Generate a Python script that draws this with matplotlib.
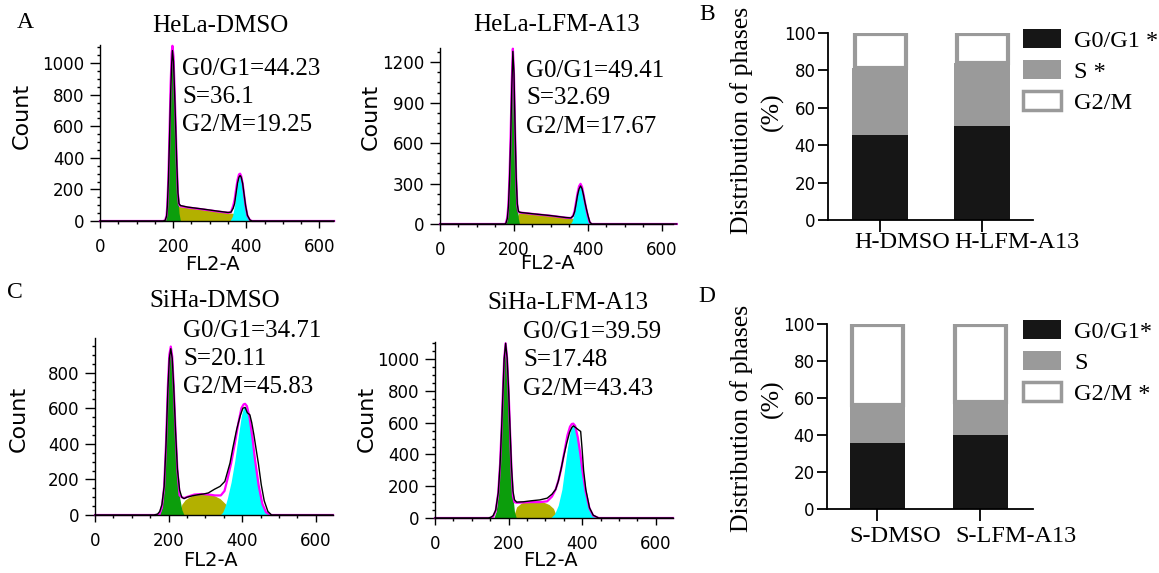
#!/usr/bin/env python3

import numpy as np
import matplotlib
matplotlib.use('Agg')
import matplotlib.pyplot as plt
from matplotlib.ticker import MultipleLocator
from matplotlib.patches import Patch
from matplotlib.transforms import ScaledTranslation

# ---- histogram data (FL2-A channel, counts) ----
# HeLa-DMSO
hd_g1_x = [178, 182, 184, 187, 190, 193, 196, 198, 201, 204, 207, 210, 213, 216, 220]
hd_g1_y = [0, 30, 90, 260, 520, 800, 1000, 1058, 980, 780, 560, 330, 150, 50, 0]
hd_s_x = [200, 214, 250, 300, 340, 365, 385]
hd_s_y = [0, 92, 82, 68, 56, 48, 0]
hd_g2_x = [355, 362, 368, 372, 376, 380, 383, 386, 390, 394, 398, 403, 410]
hd_g2_y = [0, 30, 100, 170, 235, 275, 282, 270, 230, 160, 90, 30, 0]
hd_x = [0, 172, 178, 182, 184, 187, 190, 193, 196, 198, 201, 204, 207, 210, 213, 216, 220, 240,
        280, 320, 350, 358, 364, 368, 372, 376, 380, 383, 386, 390, 394, 398, 403, 410, 416, 640]
hd_data = [0, 0, 3, 30, 90, 260, 520, 800, 1000, 1080, 1010, 810, 590, 360, 180, 110, 98, 88,
           76, 63, 54, 56, 80, 110, 175, 240, 278, 288, 278, 238, 168, 98, 36, 6, 0, 0]
hd_fit = [0, 0, 4, 35, 100, 280, 560, 860, 1060, 1110, 1040, 830, 600, 360, 175, 105, 94, 86,
          74, 61, 52, 56, 95, 135, 200, 260, 295, 300, 285, 238, 165, 95, 34, 5, 0, 0]

# HeLa-LFM-A13
hl_g1_x = [178, 182, 185, 188, 191, 194, 197, 200, 203, 206, 209, 212, 215]
hl_g1_y = [0, 40, 130, 330, 624, 1000, 1290, 1100, 680, 330, 128, 40, 0]
hl_s_x = [198, 214, 250, 300, 340, 360, 378]
hl_s_y = [0, 84, 74, 62, 48, 42, 0]
hl_g2_x = [352, 357, 362, 366, 370, 374, 378, 382, 386, 390, 394, 398, 403, 408]
hl_g2_y = [0, 20, 70, 140, 200, 250, 277, 265, 225, 175, 135, 80, 25, 0]
hl_x = [0, 174, 178, 182, 185, 188, 191, 194, 197, 200, 203, 206, 209, 212, 215, 220, 250,
        300, 340, 354, 360, 364, 368, 372, 376, 380, 384, 388, 392, 396, 400, 405, 410, 640]
hl_data = [0, 0, 3, 40, 130, 330, 620, 1000, 1280, 1120, 700, 350, 150, 95, 88, 85, 76,
           62, 48, 45, 60, 90, 150, 215, 260, 282, 262, 215, 160, 110, 65, 15, 0, 0]
hl_fit = [0, 0, 5, 50, 150, 360, 660, 1050, 1300, 1110, 690, 340, 140, 92, 86, 84, 75,
          61, 47, 44, 62, 100, 165, 230, 280, 298, 275, 220, 160, 105, 55, 10, 0, 0]

# SiHa-DMSO
sd_g1_x = [175, 182, 188, 193, 198, 202, 206, 210, 214, 219, 224, 230, 236, 242]
sd_g1_y = [0, 40, 150, 380, 700, 880, 929, 880, 720, 465, 250, 100, 30, 0]
sd_s_x = [228, 236, 245, 260, 275, 294, 310, 325, 340, 355, 365, 372]
sd_s_y = [0, 60, 85, 105, 116, 120, 117, 108, 92, 62, 30, 0]
sd_g2_x = [340, 347, 353, 360, 370, 380, 390, 398, 404, 408, 413, 420, 428, 435, 445, 455, 465, 478]
sd_g2_y = [0, 15, 45, 95, 185, 305, 450, 560, 605, 610, 600, 540, 430, 305, 160, 60, 15, 0]
sd_data_x = [0, 160, 170, 176, 182, 188, 193, 198, 202, 206, 210, 214, 219, 224, 230, 236, 242,
             250, 265, 280, 295, 308, 325, 340, 353, 367, 375, 385, 395, 402, 408, 414, 421,
             426, 432, 438, 444, 452, 460, 470, 480, 647]
sd_data = [0, 0, 5, 20, 60, 160, 390, 700, 880, 935, 880, 720, 470, 260, 140, 100, 92,
           100, 108, 114, 118, 124, 145, 161, 189, 292, 380, 480, 560, 600, 605, 575, 563,
           520, 450, 370, 292, 170, 80, 20, 0, 0]
sd_fit_x = [0, 165, 175, 182, 188, 193, 198, 202, 206, 210, 214, 219, 224, 230, 236, 242, 255,
            270, 290, 310, 326, 342, 352, 360, 370, 380, 390, 398, 404, 408, 413, 420, 428,
            435, 445, 455, 465, 478, 647]
sd_fit = [0, 0, 3, 45, 160, 400, 720, 900, 947, 890, 725, 470, 255, 110, 100, 95, 105,
          115, 118, 115, 110, 110, 135, 200, 290, 400, 520, 600, 622, 625, 612, 550, 435,
          310, 165, 62, 15, 0, 0]

# SiHa-LFM-A13
sl_g1_x = [160, 166, 172, 177, 181, 185, 188, 192, 196, 200, 204, 208, 212, 216, 221]
sl_g1_y = [0, 40, 150, 330, 547, 800, 990, 1094, 1000, 800, 547, 300, 130, 40, 0]
sl_s_x = [212, 222, 235, 250, 267, 280, 295, 310, 322, 332]
sl_s_y = [0, 70, 95, 106, 110, 108, 100, 85, 60, 0]
sl_g2_x = [314, 325, 335, 345, 352, 360, 367, 372, 376, 381, 388, 395, 401, 410, 420, 430, 445]
sl_g2_y = [0, 25, 80, 180, 300, 440, 540, 575, 583, 570, 500, 400, 292, 160, 60, 15, 0]
sl_data_x = [0, 145, 152, 158, 165, 172, 177, 181, 185, 188, 192, 196, 200, 204, 208, 212, 216,
             222, 240, 260, 285, 305, 318, 328, 335, 342, 350, 358, 366, 372, 376, 382, 390,
             396, 400, 404, 410, 420, 430, 445, 647]
sl_data = [0, 0, 5, 15, 50, 160, 340, 560, 810, 1000, 1100, 1010, 810, 560, 320, 170, 115,
           100, 102, 108, 114, 125, 150, 180, 230, 300, 390, 470, 540, 570, 580, 570, 555,
           545, 430, 300, 180, 65, 18, 0, 0]
sl_fit_x = [0, 150, 158, 165, 172, 177, 181, 185, 188, 192, 196, 200, 204, 208, 212, 216, 222,
            240, 260, 285, 305, 318, 328, 336, 344, 352, 360, 367, 372, 376, 381, 388, 395,
            401, 410, 420, 430, 445, 647]
sl_fit = [0, 0, 8, 45, 160, 345, 565, 820, 1000, 1100, 1005, 805, 552, 305, 140, 100, 96,
          98, 100, 100, 105, 135, 180, 240, 320, 420, 520, 575, 592, 594, 580, 510, 405,
          295, 160, 60, 15, 0, 0]

# ---- stacked bar data (% of cells) ----
hela_cats = ['H-DMSO', 'H-LFM-A13']
hela_g1 = [45.3, 50.3]
hela_s = [36.0, 33.6]
hela_g2m = [18.2, 15.6]
hela_legend = ['G0/G1 *', 'S *', 'G2/M']

siha_cats = ['S-DMSO', 'S-LFM-A13']
siha_g1 = [35.7, 40.2]
siha_s = [20.3, 17.6]
siha_g2m = [43.5, 41.7]
siha_legend = ['G0/G1*', 'S', 'G2/M *']

GREEN = '#0c9e0c'
OLIVE = '#b3b000'
CYAN = '#00ffff'
PINK = '#ff00ff'
BLACK = '#161616'
GRAY = '#9a9a9a'
SERIF = 'Liberation Serif'
SANS = 'DejaVu Sans'

W, H = 1159, 573
fig = plt.figure(figsize=(W / 100, H / 100), dpi=100)


def rect(l, t, r, b):
    return [l / W, 1 - b / H, (r - l) / W, (b - t) / H]


def ftext(x, y, s, **kw):
    fig.text(x / W, 1 - y / H, s, **kw)


def draw_hist(r, xmax, ymax, ystep, yminor, g1x, g1y, sx, sy, g2x, g2y, dx, dy, fx, fy):
    ax = fig.add_axes(r)
    ax.fill_between(sx, sy, color=OLIVE, lw=0)
    ax.fill_between(g1x, g1y, color=GREEN, lw=0)
    ax.fill_between(g2x, g2y, color=CYAN, lw=0)
    ax.plot(fx, fy, color=PINK, lw=1.6, clip_on=False)
    ax.plot(dx, dy, color='black', lw=1.0, clip_on=False)
    ax.set_xlim(0, xmax)
    ax.set_ylim(0, ymax)
    ax.xaxis.set_major_locator(MultipleLocator(200))
    ax.xaxis.set_minor_locator(MultipleLocator(50))
    ax.yaxis.set_major_locator(MultipleLocator(ystep))
    ax.yaxis.set_minor_locator(MultipleLocator(yminor))
    for s in ['top', 'right']:
        ax.spines[s].set_visible(False)
    for s in ['left', 'bottom']:
        ax.spines[s].set_linewidth(1.0)
    ax.tick_params(axis='y', which='major', length=7, width=1, pad=4, labelsize=12)
    ax.tick_params(axis='x', which='major', length=5, width=1, pad=7, labelsize=12)
    ax.tick_params(which='minor', length=2, width=1)
    for lab in ax.get_xticklabels() + ax.get_yticklabels():
        lab.set_family(SANS)
    return ax


draw_hist(rect(100, 45, 333, 221), 637, 1115, 200, 50,
          hd_g1_x, hd_g1_y, hd_s_x, hd_s_y, hd_g2_x, hd_g2_y, hd_x, hd_data, hd_x, hd_fit)
draw_hist(rect(440, 48, 673, 224), 630, 1305, 300, 75,
          hl_g1_x, hl_g1_y, hl_s_x, hl_s_y, hl_g2_x, hl_g2_y, hl_x, hl_data, hl_x, hl_fit)
draw_hist(rect(95, 338, 333, 515), 647, 995, 200, 50,
          sd_g1_x, sd_g1_y, sd_s_x, sd_s_y, sd_g2_x, sd_g2_y, sd_data_x, sd_data, sd_fit_x, sd_fit)
draw_hist(rect(435, 342, 673, 518), 647, 1108, 200, 50,
          sl_g1_x, sl_g1_y, sl_s_x, sl_s_y, sl_g2_x, sl_g2_y, sl_data_x, sl_data, sl_fit_x, sl_fit)

# titles, annotations and axis labels of the histograms
hist_text = [
    ('HeLa-DMSO', 220, 26, 182, [69, 97, 125], ['G0/G1=44.23', 'S=36.1', 'G2/M=19.25'], 22, 116, 212, 265),
    ('HeLa-LFM-A13', 557, 25, 526, [71, 98, 127], ['G0/G1=49.41', 'S=32.69', 'G2/M=17.67'], 371, 117, 547, 263),
    ('SiHa-DMSO', 215, 301, 183, [331, 359, 387], ['G0/G1=34.71', 'S=20.11', 'G2/M=45.83'], 19, 419, 210, 561),
    ('SiHa-LFM-A13', 568, 303, 523, [332, 360, 389], ['G0/G1=39.59', 'S=17.48', 'G2/M=43.43'], 367, 419, 550, 561),
]
for title, tx, ty, ax_, ays, lines, cx, cy, fx_, fy_ in hist_text:
    ftext(tx, ty, title, family=SERIF, fontsize=18, ha='center', va='center')
    for yy, s in zip(ays, lines):
        ftext(ax_, yy, s, family=SERIF, fontsize=18, ha='left', va='center')
    ftext(cx, cy, 'Count', family=SANS, fontsize=16, rotation=90, ha='center', va='center')
    ftext(fx_, fy_, 'FL2-A', family=SANS, fontsize=14, ha='center', va='center')


def draw_bars(r, xlim, cats, g1, s, g2m, legend_labels, label_dx, label_dy, leg_xy):
    ax = fig.add_axes(r)
    x = np.arange(len(cats))
    g1 = np.array(g1)
    s = np.array(s)
    g2m = np.array(g2m)
    ax.bar(x, g1, width=0.54, color=BLACK, lw=0)
    ax.bar(x, s, bottom=g1, width=0.54, color=GRAY, lw=0)
    ax.bar(x, g2m, bottom=g1 + s, width=0.5, color='white', edgecolor=GRAY, lw=3)
    ax.set_xlim(*xlim)
    ax.set_ylim(0, 100)
    ax.set_xticks(x)
    ax.set_xticklabels([])
    ax.set_yticks(range(0, 101, 20))
    for sp in ['top', 'right']:
        ax.spines[sp].set_visible(False)
    for sp in ['left', 'bottom']:
        ax.spines[sp].set_linewidth(1.3)
    ax.tick_params(axis='y', length=7, width=1.3, pad=2, labelsize=12)
    ax.tick_params(axis='x', length=8.5, width=1.3)
    for lab in ax.get_yticklabels():
        lab.set_family(SANS)
    for i, c in enumerate(cats):
        off = ScaledTranslation(label_dx[i] / 100, -label_dy / 100, fig.dpi_scale_trans)
        ax.text(i, 0, c, transform=ax.get_xaxis_transform() + off, family=SERIF,
                fontsize=17.5, ha='center', va='center')
    handles = [Patch(facecolor=BLACK, edgecolor=BLACK, lw=0),
               Patch(facecolor=GRAY, edgecolor=GRAY, lw=0),
               Patch(facecolor='white', edgecolor=GRAY, lw=2.5)]
    fig.legend(handles, legend_labels, loc='upper left',
               bbox_to_anchor=(leg_xy[0] / W, 1 - leg_xy[1] / H),
               frameon=False, borderpad=0, borderaxespad=0,
               handlelength=1.55, handleheight=0.85, handletextpad=0.55,
               labelspacing=0.32, prop={'family': SERIF, 'size': 17.5})
    return ax


draw_bars(rect(828, 33, 1033, 220), (-0.51, 1.5), hela_cats, hela_g1, hela_s, hela_g2m,
          hela_legend, [22, 35], 23, (1023, 29))
draw_bars(rect(827, 324, 1033, 509), (-0.49, 1.51), siha_cats, siha_g1, siha_s, siha_g2m,
          siha_legend, [18, 36], 28, (1023, 320))

for yy, yp in [(120, 112), (418, 399)]:
    ftext(742, yy, 'Distribution of phases', family=SERIF, fontsize=18.5, rotation=90,
          ha='center', va='center')
    ftext(772, yp, '(%)', family=SERIF, fontsize=18.5, rotation=90, ha='center', va='center')

for letter, lx, ly in [('A', 25, 22), ('B', 707, 15), ('C', 15, 292), ('D', 707, 297)]:
    ftext(lx, ly, letter, family=SERIF, fontsize=17, ha='center', va='center')

fig.savefig('out.png', dpi=100)
